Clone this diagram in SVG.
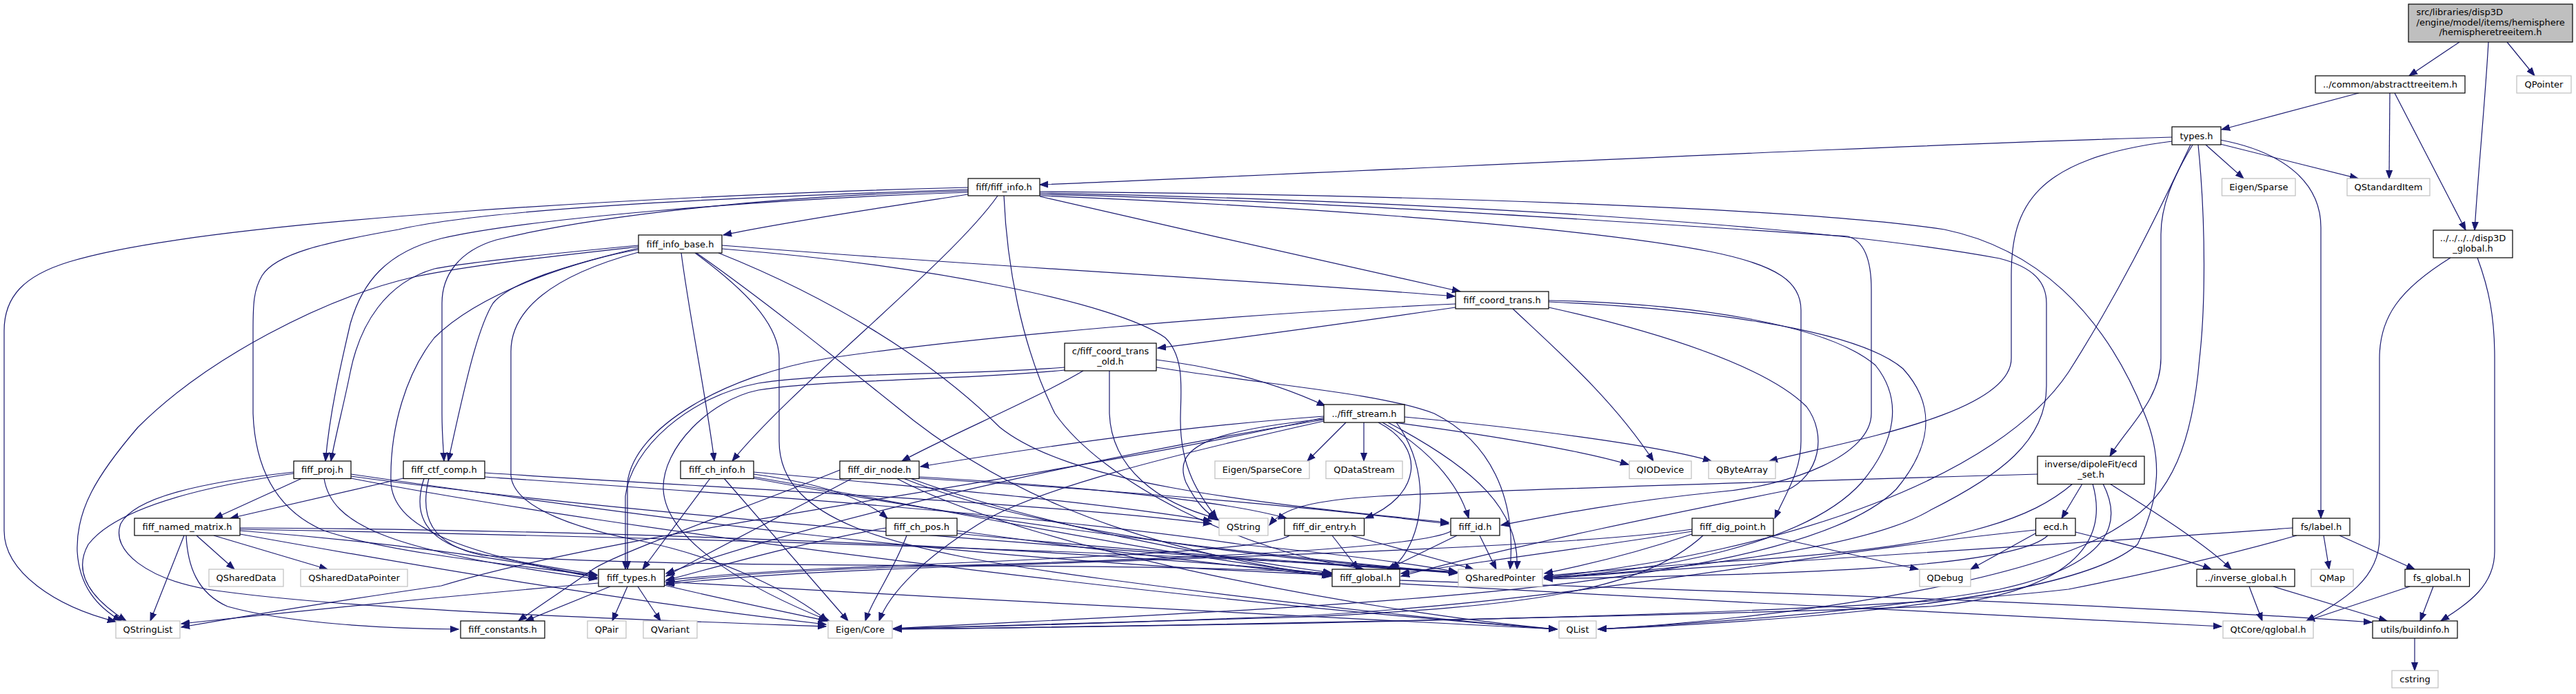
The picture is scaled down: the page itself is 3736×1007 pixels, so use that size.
<svg xmlns="http://www.w3.org/2000/svg" width="3736" height="1007" viewBox="0 0 3736 1007">
<style>
.n{fill:#fff;stroke:#000;stroke-width:1.2}
.x{fill:#fff;stroke:#bfbfbf;stroke-width:1.2}
.r{fill:#bfbfbf;stroke:#000;stroke-width:1.2}
text{font-family:"DejaVu Sans","Liberation Sans",sans-serif;font-size:13px;fill:#000;text-anchor:middle}
text.l{text-anchor:start}
#edges path{fill:none;stroke:#191970;stroke-width:1.2;marker-end:url(#a)}
</style>
<defs>
<marker id="a" markerUnits="userSpaceOnUse" markerWidth="14" markerHeight="11" refX="12" refY="5" orient="auto"><path d="M0,0.5 L12,5 L0,9.5 z" fill="#191970" stroke="#191970" stroke-width="1"/></marker>
</defs>
<rect width="3736" height="1007" fill="#fff"/>
<g id="edges">
<path d="M3567,61 L3494,110"/>
<path d="M3609,61 C3604,150 3594,250 3589,334"/>
<path d="M3636,61 L3676,110"/>
<path d="M3421,135 L3222,188"/>
<path d="M3466,135 L3465,259"/>
<path d="M3473,135 L3576,334"/>
<path d="M3554,374 C3480,420 3451,460 3451,520 L3451,780 C3451,840 3400,870 3345,901"/>
<path d="M3593,374 C3610,420 3618,460 3618,520 L3618,800 C3618,850 3580,875 3540,901"/>
<path d="M3150,199 C2700,212 2000,248 1508,268"/>
<path d="M3150,205 C2950,230 2917,300 2917,400 L2917,520 C2917,600 2680,640 2566,669"/>
<path d="M3199,210 L3254,259"/>
<path d="M3220,209 L3420,259"/>
<path d="M3220,203 C3320,222 3366,270 3366,330 L3366,752"/>
<path d="M3180,210 C3150,260 3134,300 3134,340 L3134,520 C3134,580 3085,620 3060,662"/>
<path d="M3177,210 C3120,330 3070,430 3000,540 C2900,690 2600,800 2239,838"/>
<path d="M3188,210 C3200,330 3198,450 3190,520 C3180,640 3150,720 3080,760 C2950,850 2550,900 2318,913"/>
<path d="M1404,282 C1300,298 1150,320 1049,341"/>
<path d="M1508,285 C1700,330 1950,385 2118,423"/>
<path d="M1447,284 C1380,380 1150,560 1062,669"/>
<path d="M1404,272 C1000,282 300,318 100,380 C35,400 6,430 6,480 L6,770 C6,830 80,880 168,902"/>
<path d="M1404,275 C1000,288 700,305 578,333 C470,352 400,368 380,400 C368,420 367,440 367,480 L367,600 C370,680 400,740 470,770 C560,800 700,815 866,835"/>
<path d="M1404,279 C1100,289 760,318 640,346 C560,366 525,410 508,470 C494,530 478,600 472,669"/>
<path d="M1404,277 C1100,284 850,316 720,348 C665,364 641,400 641,440 L641,600 C641,630 643,650 644,669"/>
<path d="M1456,284 C1460,380 1480,500 1530,600 C1600,700 1800,800 1978,826"/>
<path d="M1508,284 C1900,300 2300,330 2480,365 C2580,385 2612,410 2612,450 L2612,640 C2612,685 2590,715 2574,752"/>
<path d="M1508,282 C1900,290 2400,325 2680,343 C2705,350 2714,380 2714,420 L2714,600 C2714,660 2600,705 2490,714 C2350,728 2250,748 2177,762"/>
<path d="M1508,280 C2000,290 2600,320 2900,375 C2950,388 2968,410 2968,440 L2968,560 C2968,640 2900,690 2800,740 C2700,800 2400,830 2240,838"/>
<path d="M1508,278 C2000,282 2600,300 2820,333 C2950,360 3050,450 3110,600 C3135,660 3135,720 3100,790 C3000,880 2500,905 2318,913"/>
<path d="M1047,356 C1400,385 1800,405 2110,430"/>
<path d="M1047,361 C1350,385 1620,440 1690,490 C1720,520 1712,570 1712,610 C1712,680 1740,720 1765,752"/>
<path d="M988,367 C1000,460 1025,580 1036,669"/>
<path d="M926,356 C800,368 680,380 630,390 C560,410 522,470 508,540 C498,590 487,630 480,669"/>
<path d="M926,358 C800,372 680,385 600,402 C470,432 300,520 200,620 C140,690 110,740 112,800 C115,850 140,880 176,901"/>
<path d="M926,360 C820,385 740,410 715,440 C690,480 670,580 650,669"/>
<path d="M926,362 C850,375 700,420 630,490 C590,540 565,620 567,700 C570,760 650,800 866,838"/>
<path d="M926,366 C800,400 741,450 741,510 L741,690 C745,740 850,770 930,785 C1050,810 1150,860 1200,901"/>
<path d="M1008,367 C1080,420 1130,470 1130,520 L1130,640 C1130,760 1300,800 1600,840 C1900,880 2150,905 2258,913"/>
<path d="M1010,367 C1100,430 1200,510 1300,590 C1420,690 1600,790 1929,836"/>
<path d="M1042,367 C1200,430 1350,520 1450,620 C1550,700 1800,728 2101,758"/>
<path d="M2111,446 C2000,462 1800,490 1679,505"/>
<path d="M2111,441 C1800,455 1400,490 1200,520 C1050,545 920,620 910,700 L910,826"/>
<path d="M2194,448 C2260,510 2340,580 2398,669"/>
<path d="M2246,446 C2400,480 2560,530 2620,590 C2650,630 2640,690 2590,712 C2450,740 2200,790 2032,836"/>
<path d="M2246,436 C2450,440 2650,470 2720,530 C2760,580 2750,640 2700,700 C2620,790 2400,830 2240,838"/>
<path d="M2246,438 C2450,447 2690,475 2760,535 C2810,590 2800,650 2750,710 C2600,860 1900,880 1296,912"/>
<path d="M1571,538 C1500,580 1380,630 1308,669"/>
<path d="M1677,522 C1780,535 1860,560 1922,589"/>
<path d="M1677,533 C1850,560 2000,570 2080,600 C2160,640 2200,720 2190,826"/>
<path d="M1609,538 L1609,600 C1612,680 1680,730 1764,752"/>
<path d="M1544,533 C1400,545 1200,540 1100,556 C1000,575 915,650 907,720 L907,826"/>
<path d="M1544,537 C1400,552 1200,550 1100,566 C1030,580 960,650 962,710 C966,790 1100,860 1203,901"/>
<path d="M1920,604 C1700,620 1500,650 1335,677"/>
<path d="M1920,606 C1500,700 900,770 640,850 C500,870 350,895 263,910"/>
<path d="M1920,609 C1600,660 1200,750 966,832"/>
<path d="M1920,611 C1700,660 1500,710 1420,760 C1340,810 1290,860 1275,901"/>
<path d="M1952,613 L1896,669"/>
<path d="M1978,613 L1978,669"/>
<path d="M1999,613 C2070,650 2060,720 1980,752"/>
<path d="M2005,613 C2070,650 2115,700 2130,752"/>
<path d="M2013,613 C2140,680 2205,740 2200,826"/>
<path d="M2015,612 C2150,630 2280,650 2362,674"/>
<path d="M2037,605 C2200,620 2400,645 2482,669"/>
<path d="M1920,608 C1750,625 1700,650 1720,700 C1735,730 1750,745 1768,755"/>
<path d="M2025,613 C2075,680 2070,780 2018,826"/>
<path d="M438,694 L311,752"/>
<path d="M426,687 C300,705 170,735 128,790 C100,840 150,880 183,901"/>
<path d="M426,685 C290,700 195,722 175,760 C160,800 215,840 300,855 C500,885 900,898 1198,909"/>
<path d="M470,694 C480,760 560,800 866,840"/>
<path d="M509,688 C900,745 1400,815 1929,834"/>
<path d="M509,691 C900,745 1600,800 2113,831"/>
<path d="M509,694 C900,770 1700,870 2258,913"/>
<path d="M585,694 L334,752"/>
<path d="M615,694 C600,740 610,780 680,800 C760,818 820,826 866,834"/>
<path d="M622,694 C608,750 625,790 700,806 C1100,830 1600,812 1931,832"/>
<path d="M703,692 C1000,712 1500,745 1800,790 C1950,805 2050,818 2113,830"/>
<path d="M703,686 C1000,706 1500,728 1757,760"/>
<path d="M1030,694 L932,826"/>
<path d="M1050,694 L1230,901"/>
<path d="M1093,688 C1180,700 1250,720 1287,752"/>
<path d="M1093,692 C1400,745 1700,808 1931,834"/>
<path d="M1093,694 C1400,752 1800,805 2113,831"/>
<path d="M1093,685 C1400,712 1600,730 1757,756"/>
<path d="M1218,682 C1100,730 900,800 860,826 C830,848 780,880 752,901"/>
<path d="M1236,694 C1150,740 1050,790 966,836"/>
<path d="M1333,692 C1600,708 1780,728 1866,752"/>
<path d="M1333,694 C1700,716 1950,742 2101,760"/>
<path d="M1320,694 C1500,760 1750,808 1931,831"/>
<path d="M1310,694 C1500,770 1800,808 2113,831"/>
<path d="M1300,694 C1500,800 2000,890 2258,913"/>
<path d="M1285,766 C1150,790 1050,820 966,842"/>
<path d="M1388,770 C1600,800 1800,822 1931,836"/>
<path d="M1315,777 C1295,830 1265,870 1255,901"/>
<path d="M1388,774 C1700,805 1950,818 2113,832"/>
<path d="M285,777 L340,826"/>
<path d="M310,777 L475,826"/>
<path d="M267,777 L218,901"/>
<path d="M270,777 C272,820 285,860 330,880 C420,905 560,912 665,913"/>
<path d="M348,770 C550,785 750,812 866,838"/>
<path d="M348,766 C800,768 1500,790 1931,833"/>
<path d="M348,768 C900,778 1700,800 2113,830"/>
<path d="M348,775 C600,820 900,872 1198,906"/>
<path d="M885,851 L762,901"/>
<path d="M910,851 L888,901"/>
<path d="M925,851 L958,901"/>
<path d="M963,849 C1050,870 1150,890 1199,901"/>
<path d="M963,844 C1400,868 1900,898 2258,913"/>
<path d="M868,846 C650,865 420,888 263,905"/>
<path d="M1932,777 L1970,826"/>
<path d="M1960,777 L2137,826"/>
<path d="M1870,777 C1840,800 1500,812 1200,825 C1100,830 1020,836 966,842"/>
<path d="M2113,777 L2012,826"/>
<path d="M2146,777 L2170,826"/>
<path d="M2104,771 C2050,800 1600,815 1300,823 C1150,828 1030,836 966,846"/>
<path d="M2562,777 L2782,826"/>
<path d="M2454,771 C2300,795 2150,815 2032,832"/>
<path d="M2454,775 C2380,800 2300,820 2240,832"/>
<path d="M2454,768 C2300,790 1900,805 1400,822 C1200,828 1050,838 966,848"/>
<path d="M2470,777 C2380,860 2200,880 1900,895 C1600,905 1400,910 1296,912"/>
<path d="M2952,774 L2858,826"/>
<path d="M3010,772 C3080,790 3150,805 3207,826"/>
<path d="M2952,769 C2600,805 2300,870 1900,893 C1600,905 1400,910 1296,912"/>
<path d="M2970,777 C2920,825 2600,833 2240,840"/>
<path d="M3020,702 L2990,752"/>
<path d="M3060,702 C3120,740 3200,790 3236,826"/>
<path d="M2955,688 C2600,698 2200,710 2000,720 C1900,726 1860,738 1841,762"/>
<path d="M3006,702 C2950,750 2850,795 2500,815 C2400,822 2300,830 2240,836"/>
<path d="M3050,702 C3080,760 3060,820 2900,855 C2700,890 2450,905 2318,913"/>
<path d="M3035,702 C3060,790 3000,860 2800,880 C2400,895 1700,908 1296,913"/>
<path d="M3370,777 L3378,826"/>
<path d="M3393,777 L3502,826"/>
<path d="M3325,766 C3000,790 2600,812 2240,840"/>
<path d="M3331,777 C3250,800 3150,825 3000,855 C2700,890 2000,905 1296,913"/>
<path d="M3262,851 L3281,901"/>
<path d="M3297,851 L3462,901"/>
<path d="M3495,851 L3345,901"/>
<path d="M3529,851 L3510,901"/>
<path d="M2030,847 C2400,868 2900,893 3222,909"/>
<path d="M2030,842 C2500,858 3000,872 3440,903"/>
<path d="M3502,926 L3502,973"/>
</g>
<g id="n-root"><rect class="r" x="3493" y="6" width="238" height="55"/><text class="l" x="3504.5" y="22">src/libraries/disp3D</text><text class="l" x="3504.5" y="37">/engine/model/items/hemisphere</text><text x="3612" y="51">/hemispheretreeitem.h</text></g>
<g id="n-abstracttreeitem"><rect class="n" x="3358" y="110" width="217" height="25"/><text x="3466.5" y="127">../common/abstracttreeitem.h</text></g>
<g id="n-qpointer"><rect class="x" x="3650" y="110" width="79" height="25"/><text x="3689.5" y="127">QPointer</text></g>
<g id="n-types"><rect class="n" x="3150" y="184" width="71" height="26"/><text x="3185.5" y="201.5">types.h</text></g>
<g id="n-eigensparse"><rect class="x" x="3222.5" y="259" width="106.5" height="25"/><text x="3275.8" y="276">Eigen/Sparse</text></g>
<g id="n-qstandarditem"><rect class="x" x="3404" y="259" width="120" height="25"/><text x="3464" y="276">QStandardItem</text></g>
<g id="n-disp3dglobal"><rect class="n" x="3529" y="334" width="115" height="40"/><text x="3586.5" y="350">../../../../disp3D</text><text x="3586.5" y="365">_global.h</text></g>
<g id="n-fiffinfo"><rect class="n" x="1404" y="259" width="104" height="25"/><text x="1456" y="276">fiff/fiff_info.h</text></g>
<g id="n-fiffinfobase"><rect class="n" x="926" y="341" width="121" height="26"/><text x="986.5" y="358.5">fiff_info_base.h</text></g>
<g id="n-fiffcoordtrans"><rect class="n" x="2111" y="423" width="135" height="25"/><text x="2178.5" y="440">fiff_coord_trans.h</text></g>
<g id="n-coordtransold"><rect class="n" x="1544" y="498" width="133" height="40"/><text x="1610.5" y="514">c/fiff_coord_trans</text><text x="1610.5" y="528.5">_old.h</text></g>
<g id="n-fiffstream"><rect class="n" x="1920" y="587" width="117" height="26"/><text x="1978.5" y="604.5">../fiff_stream.h</text></g>
<g id="n-fiffproj"><rect class="n" x="426" y="669" width="83" height="25.5"/><text x="467.5" y="686.3">fiff_proj.h</text></g>
<g id="n-fiffctfcomp"><rect class="n" x="585" y="669" width="118" height="25.5"/><text x="644" y="686.3">fiff_ctf_comp.h</text></g>
<g id="n-fiffchinfo"><rect class="n" x="987" y="669" width="106" height="25.5"/><text x="1040" y="686.3">fiff_ch_info.h</text></g>
<g id="n-fiffdirnode"><rect class="n" x="1218" y="669" width="115" height="25.5"/><text x="1275.5" y="686.3">fiff_dir_node.h</text></g>
<g id="n-eigensparsecore"><rect class="x" x="1762" y="669" width="137" height="25.5"/><text x="1830.5" y="686.3">Eigen/SparseCore</text></g>
<g id="n-qdatastream"><rect class="x" x="1923" y="669" width="111" height="25.5"/><text x="1978.5" y="686.3">QDataStream</text></g>
<g id="n-qiodevice"><rect class="x" x="2363" y="669" width="90" height="25.5"/><text x="2408" y="686.3">QIODevice</text></g>
<g id="n-qbytearray"><rect class="x" x="2478" y="669" width="97" height="25.5"/><text x="2526.5" y="686.3">QByteArray</text></g>
<g id="n-ecdset"><rect class="n" x="2955" y="662" width="155" height="40.5"/><text x="3032.5" y="678">inverse/dipoleFit/ecd</text><text x="3032.5" y="693">_set.h</text></g>
<g id="n-fiffnamedmatrix"><rect class="n" x="195" y="752" width="153" height="25"/><text x="271.5" y="769">fiff_named_matrix.h</text></g>
<g id="n-fiffchpos"><rect class="n" x="1285" y="752" width="103" height="25"/><text x="1336.5" y="769">fiff_ch_pos.h</text></g>
<g id="n-qstring"><rect class="x" x="1768" y="752" width="71" height="25"/><text x="1803.5" y="769">QString</text></g>
<g id="n-fiffdirentry"><rect class="n" x="1863" y="752" width="115.5" height="25"/><text x="1920.8" y="769">fiff_dir_entry.h</text></g>
<g id="n-fiffid"><rect class="n" x="2104" y="752" width="71" height="25"/><text x="2139.5" y="769">fiff_id.h</text></g>
<g id="n-fiffdigpoint"><rect class="n" x="2454" y="752" width="118" height="25"/><text x="2513" y="769">fiff_dig_point.h</text></g>
<g id="n-ecd"><rect class="n" x="2952.5" y="752" width="57.5" height="25"/><text x="2981.3" y="769">ecd.h</text></g>
<g id="n-fslabel"><rect class="n" x="3325" y="752" width="83" height="25"/><text x="3366.5" y="769">fs/label.h</text></g>
<g id="n-qshareddata"><rect class="x" x="303" y="826" width="108" height="25"/><text x="357" y="843">QSharedData</text></g>
<g id="n-qshareddatapointer"><rect class="x" x="436" y="826" width="155" height="25"/><text x="513.5" y="843">QSharedDataPointer</text></g>
<g id="n-fifftypes"><rect class="n" x="868" y="826" width="95.5" height="25"/><text x="915.8" y="843">fiff_types.h</text></g>
<g id="n-fiffglobal"><rect class="n" x="1932" y="826" width="98" height="25"/><text x="1981" y="843">fiff_global.h</text></g>
<g id="n-qsharedpointer"><rect class="x" x="2115" y="826" width="122" height="25"/><text x="2176" y="843">QSharedPointer</text></g>
<g id="n-qdebug"><rect class="x" x="2784" y="826" width="74" height="25"/><text x="2821" y="843">QDebug</text></g>
<g id="n-inverseglobal"><rect class="n" x="3186" y="826" width="142" height="25"/><text x="3257" y="843">../inverse_global.h</text></g>
<g id="n-qmap"><rect class="x" x="3352" y="826" width="61" height="25"/><text x="3382.5" y="843">QMap</text></g>
<g id="n-fsglobal"><rect class="n" x="3488" y="826" width="93.5" height="25"/><text x="3534.8" y="843">fs_global.h</text></g>
<g id="n-qstringlist"><rect class="x" x="168" y="901" width="93" height="25"/><text x="214.5" y="918">QStringList</text></g>
<g id="n-fiffconstants"><rect class="n" x="668" y="901" width="122" height="25"/><text x="729" y="918">fiff_constants.h</text></g>
<g id="n-qpair"><rect class="x" x="852" y="901" width="56" height="25"/><text x="880" y="918">QPair</text></g>
<g id="n-qvariant"><rect class="x" x="933" y="901" width="78" height="25"/><text x="972" y="918">QVariant</text></g>
<g id="n-eigencore"><rect class="x" x="1201" y="901" width="93" height="25"/><text x="1247.5" y="918">Eigen/Core</text></g>
<g id="n-qlist"><rect class="x" x="2261" y="901" width="54" height="25"/><text x="2288" y="918">QList</text></g>
<g id="n-qglobal"><rect class="x" x="3224" y="901" width="131" height="25"/><text x="3289.5" y="918">QtCore/qglobal.h</text></g>
<g id="n-buildinfo"><rect class="n" x="3441" y="901" width="123" height="25"/><text x="3502.5" y="918">utils/buildinfo.h</text></g>
<g id="n-cstring"><rect class="x" x="3469" y="973" width="67" height="25"/><text x="3502.5" y="990">cstring</text></g>
</svg>
